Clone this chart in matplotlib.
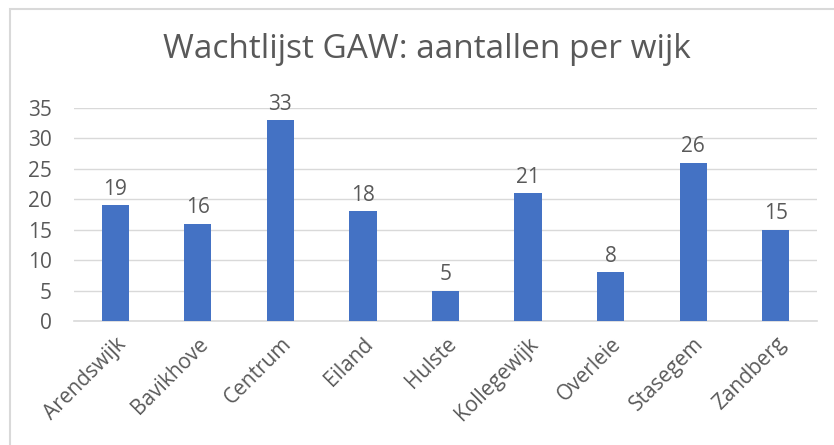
import matplotlib
matplotlib.use("Agg")
import matplotlib.pyplot as plt
from matplotlib.patches import Rectangle

categories = ["Arendswijk", "Bavikhove", "Centrum", "Eiland", "Hulste",
              "Kollegewijk", "Overleie", "Stasegem", "Zandberg"]
values = [19, 16, 33, 18, 5, 21, 8, 26, 15]
yticks = [0, 5, 10, 15, 20, 25, 30, 35]
title = "Wachtlijst GAW: aantallen per wijk"

plt.rcParams['font.family'] = ['Open Sans', 'DejaVu Sans']
txt = "#595959"
W, H = 834, 445
fig = plt.figure(figsize=(W/100, H/100), dpi=100)
fig.patches.append(Rectangle((10/W, -0.1), 2, 1.1 - 9/H, transform=fig.transFigure,
                             fill=False, edgecolor="#D9D9D9", linewidth=1.5))
ax = fig.add_axes([74/W, 1-321/H, (817-74)/W, (321-108)/H])
x = list(range(len(categories)))
bars = ax.bar(x, values, width=0.33, color="#4472C4", zorder=3)
ax.set_xlim(-0.5, len(categories)-0.5)
ax.set_ylim(0, 35)
ax.set_yticks(yticks)
ax.grid(axis='y', color="#D9D9D9", linewidth=1, zorder=0)
for s in ['top', 'right', 'left']:
    ax.spines[s].set_visible(False)
ax.spines['bottom'].set_color("#D9D9D9")
ax.spines['bottom'].set_linewidth(1.2)
ax.tick_params(axis='both', length=0, labelsize=15, colors=txt)
ax.tick_params(axis='y', pad=16)
ax.set_xticks(x)
ax.set_xticklabels(categories, rotation=45, ha='right', va='top', rotation_mode='anchor')
ax.tick_params(axis='x', pad=9)
for xi, v in zip(x, values):
    ax.annotate(str(v), (xi, v), xytext=(0, 4), textcoords='offset points',
                ha='center', va='bottom', fontsize=15, color=txt)
fig.text(427/W, 1-50/H, title, ha='center', va='center', fontsize=24, color=txt)
fig.savefig("out.png", dpi=100)
